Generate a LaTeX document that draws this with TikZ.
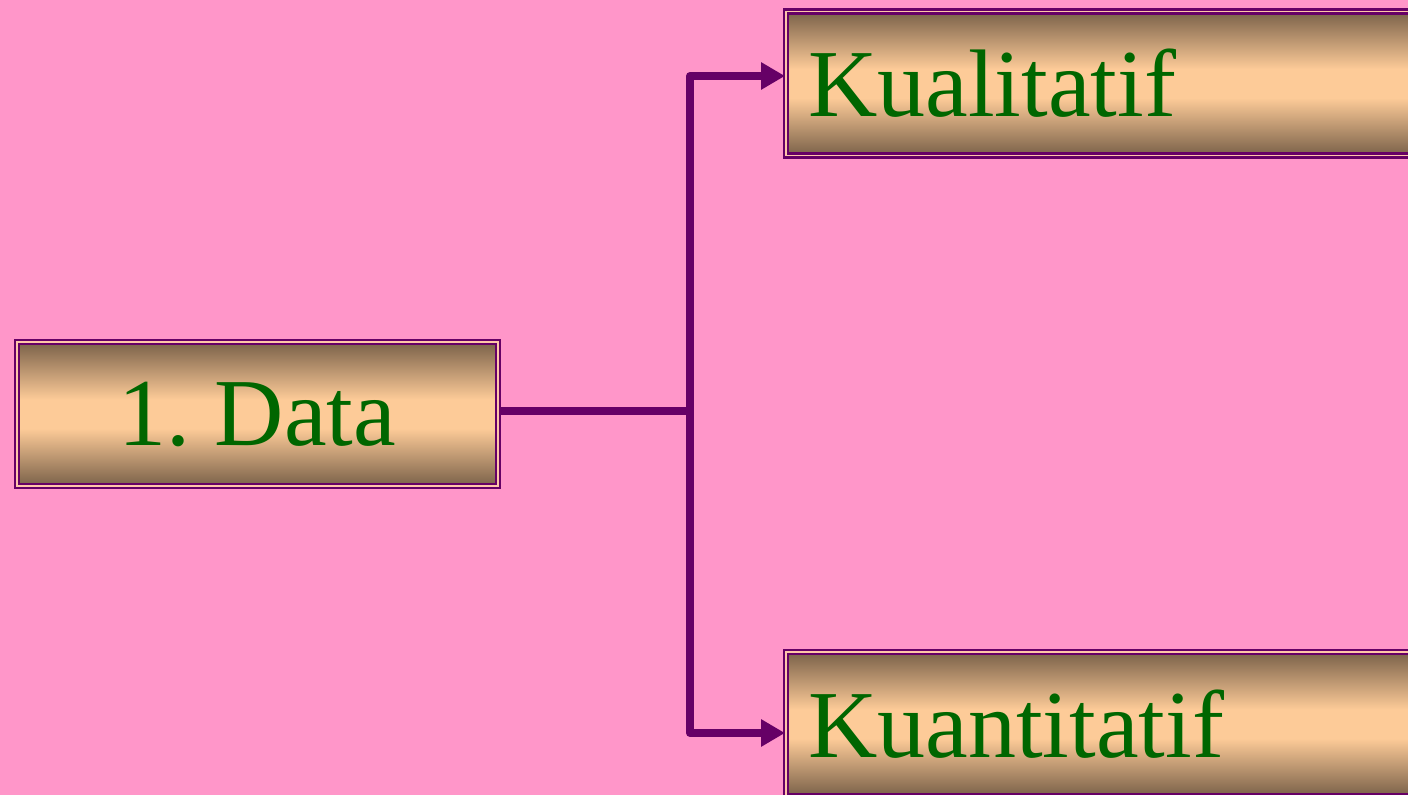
\documentclass[tikz,border=0pt]{standalone}
\usepackage{fontspec}
\setmainfont{Liberation Serif}
\usepackage{tikz}
\usetikzlibrary{arrows.meta}
\definecolor{bgpink}{HTML}{FF96C9}
\definecolor{boxdark}{HTML}{7A6149}
\definecolor{boxlight}{HTML}{FDCB98}
\definecolor{edge}{HTML}{660066}
\definecolor{txt}{HTML}{006600}
\pgfdeclareverticalshading{boxshade}{100bp}{color(0bp)=(boxdark); color(25bp)=(boxdark);
  color(45bp)=(boxlight); color(55bp)=(boxlight); color(75bp)=(boxdark); color(100bp)=(boxdark)}
\frenchspacing

\begin{document}
\begin{tikzpicture}[x=0.5pt, y=-0.5pt,
  main/.style = {draw=edge, line width=1.2pt, double=pink!40!boxlight, double distance=0.8pt,
    shading=boxshade, minimum height=72pt, text=txt, font=\fontsize{48}{52}\selectfont},
  side/.style = {anchor=west, minimum width=330pt, text width=310pt, align=left, inner xsep=11pt},
  link/.style = {draw=edge, line width=4pt, line join=round},
  tip/.style = {-{Triangle[length=12pt,width=13pt]}}]
  \useasboundingbox (0,0) rectangle (1408,795);
  \clip (0,0) rectangle (1408,795);
  \fill[bgpink] (0,0) rectangle (1408,795);
  \node[main, minimum width=240.5pt] (1) at (257.5,414) {1. Data};
  \node[main, side] (2) at (785,83.5) {Kualitatif};
  \node[main, side] (3) at (785,724) {Kuantitatif};
  \coordinate (b) at (690,411);
  \draw[link] ([yshift=1.5pt]1.east) -- (b);
  \draw[link, tip] (b) |- ([yshift=3.75pt]2.west);
  \draw[link, tip] (b) |- ([yshift=-4.5pt]3.west);
\end{tikzpicture}
\end{document}
